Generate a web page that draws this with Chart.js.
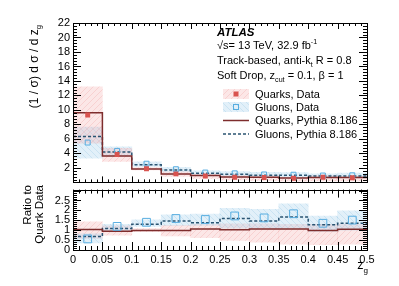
<!DOCTYPE html>
<html>
<head>
<meta charset="utf-8">
<script src="https://cdn.jsdelivr.net/npm/chart.js@4.4.0/dist/chart.umd.min.js"></script>
<style>
  html, body { margin: 0; padding: 0; background: #fff; }
  body { width: 399px; height: 286px; position: relative; overflow: hidden;
         font-family: "Liberation Sans", Arial, Helvetica, sans-serif; color: #000; }
  canvas { position: absolute; left: 0; }
  #top { top: 0; }
  #bot { top: 180px; }
  .t { position: absolute; white-space: nowrap; font-size: 11px; line-height: 13px; }
  .rot { position: absolute; transform: rotate(-90deg); transform-origin: left top;
         text-align: right; white-space: nowrap; }
  sub, sup { font-size: 65%; line-height: 0; }
</style>
</head>
<body>
<canvas id="top" width="399" height="192"></canvas>
<canvas id="bot" width="399" height="106"></canvas>

<!-- axis titles -->
<div class="rot" style="left:27px; top:185px; width:160px; font-size:12px; line-height:14px;">(1 / &sigma;) d &sigma; / d z<sub>g</sub></div>
<div class="rot" style="left:21px; top:265px; width:80px; font-size:11.5px; line-height:12px;">Ratio to<br>Quark Data</div>
<div class="t" style="right:31px; top:258px; font-size:12.5px; line-height:14px;">z<sub>g</sub></div>

<!-- labels -->
<div class="t" style="left:217px; top:25.5px; font-weight:bold; font-style:italic; font-size:11.5px;">ATLAS</div>
<div class="t" style="left:217px; top:39px;">&radic;s= 13 TeV, 32.9 fb<sup>-1</sup></div>
<div class="t" style="left:217px; top:54px;">Track-based, anti-k<sub>t</sub> R = 0.8</div>
<div class="t" style="left:217px; top:68.5px;">Soft Drop, z<sub>cut</sub> = 0.1, &beta; = 1</div>

<!-- legend text -->
<div class="t" style="left:255px; top:88px;">Quarks, Data</div>
<div class="t" style="left:255px; top:101px;">Gluons, Data</div>
<div class="t" style="left:255px; top:114px;">Quarks, Pythia 8.186</div>
<div class="t" style="left:255px; top:127.5px;">Gluons, Pythia 8.186</div>

<script>
// --- Data ---
const Z_EDGES = [0, 0.05, 0.1, 0.15, 0.2, 0.25, 0.3, 0.35, 0.4, 0.45, 0.5];

// upper panel: (1/sigma) dsigma/dz_g
const QUARK_DATA   = [9.3, 3.85, 1.88, 1.18, 0.88, 0.72, 0.68, 0.58, 0.70, 0.65];
const QUARK_LO     = [5.4, 2.9, 1.72, 0.84, 0.55, 0.35, 0.27, 0.17, 0.19, 0.20];
const QUARK_HI     = [13.2, 4.7, 2.03, 1.46, 1.15, 0.95, 0.90, 0.75, 0.91, 0.85];
const GLUON_DATA   = [5.5, 4.35, 2.58, 1.82, 1.36, 1.25, 1.10, 1.06, 0.95, 0.98];
const GLUON_LO     = [3.35, 3.65, 2.22, 1.45, 1.09, 0.79, 0.75, 0.64, 0.67, 0.65];
const GLUON_HI     = [7.65, 4.9, 2.85, 2.08, 1.60, 1.51, 1.40, 1.35, 1.20, 1.29];
const QUARK_PYTHIA = [9.6, 3.65, 1.85, 1.15, 0.95, 0.74, 0.72, 0.62, 0.69, 0.68];
const GLUON_PYTHIA = [6.35, 4.2, 2.42, 1.70, 1.25, 1.14, 1.00, 0.97, 0.89, 0.88];

// lower panel: ratio to quark data
const R_GLUON_DATA   = [0.56, 1.19, 1.40, 1.59, 1.54, 1.72, 1.62, 1.83, 1.35, 1.51];
const R_GLUON_LO     = [0.36, 0.95, 1.19, 1.24, 1.24, 1.10, 1.10, 1.10, 0.95, 1.00];
const R_GLUON_HI     = [0.82, 1.30, 1.52, 1.78, 1.82, 2.10, 2.06, 2.33, 1.71, 1.98];
const R_QUARK_LO     = [0.58, 0.75, 0.92, 0.71, 0.62, 0.48, 0.40, 0.30, 0.27, 0.30];
const R_QUARK_HI     = [1.42, 1.22, 1.08, 1.24, 1.30, 1.32, 1.32, 1.30, 1.30, 1.30];
const R_GLUON_PYTHIA = [0.68, 1.08, 1.30, 1.46, 1.38, 1.59, 1.46, 1.67, 1.27, 1.35];
const R_QUARK_PYTHIA = [1.03, 0.95, 0.99, 0.99, 1.06, 1.02, 1.06, 1.06, 0.98, 1.05];

// tick labels
const X_TICKS = [0, 0.05, 0.1, 0.15, 0.2, 0.25, 0.3, 0.35, 0.4, 0.45, 0.5];
const Y_TICKS = [2, 4, 6, 8, 10, 12, 14, 16, 18, 20, 22];
const R_TICKS = [0, 0.5, 1, 1.5, 2, 2.5];

// --- Colours ---
const RED = '#d9534f';
const QUARK_LINE = '#7e2d2d';
const BLUE = '#58ade0';
const GLUON_LINE = '#2a5472';
const FONT = { family: '"Liberation Sans", Arial, Helvetica, sans-serif', size: 11 };

function hatch(ctx, base, line, dir) {
    const c = document.createElement('canvas');
    c.width = c.height = 6;
    const g = c.getContext('2d');
    g.fillStyle = base;
    g.fillRect(0, 0, 6, 6);
    g.strokeStyle = line;
    g.lineWidth = 1;
    g.beginPath();
    if (dir > 0) { g.moveTo(-1, 7); g.lineTo(7, -1); } else { g.moveTo(-1, -1); g.lineTo(7, 7); }
    g.stroke();
    return ctx.createPattern(c, 'repeat');
}

// helpers to build datasets from the arrays
const centers = Z_EDGES.slice(0, -1).map((e, i) => (e + Z_EDGES[i + 1]) / 2);
const steps = vals => Z_EDGES.map((e, i) => ({ x: e, y: vals[Math.min(i, vals.length - 1)] }));
const points = vals => centers.map((c, i) => ({ x: c, y: vals[i] }));
const band = (lo, hi) => centers.map((c, i) => ({ x: c, y: [lo[i], hi[i]] }));

function bandSet(data, fill) {
    return { type: 'bar', data, backgroundColor: fill, borderWidth: 0, grouped: false,
             barPercentage: 1, categoryPercentage: 1 };
}
function stepSet(data, color, dash) {
    return { type: 'line', data, stepped: 'before', borderColor: color, borderWidth: 1.5,
             borderDash: dash || [], pointRadius: 0, fill: false };
}
function pointSet(data, fill, stroke, r) {
    return { type: 'line', data, showLine: false, pointStyle: 'rect', pointRadius: r,
             backgroundColor: fill, borderColor: stroke, pointBorderWidth: fill === 'transparent' ? 1 : 0 };
}

// ROOT style frame with inward ticks on all four sides
const rootFrame = {
    id: 'rootFrame',
    afterDraw(chart, args, o) {
        const { ctx, chartArea: a, scales } = chart;
        const px = v => Math.round(scales.x.getPixelForValue(v)) + 0.5;
        const py = v => Math.round(scales.y.getPixelForValue(v)) + 0.5;
        ctx.save();
        ctx.strokeStyle = '#000';
        ctx.lineWidth = 1;
        ctx.beginPath();
        const nx = Math.round((o.x[1] - o.x[0]) / o.x[3]);
        for (let i = 0; i <= nx; i++) {
            const v = o.x[0] + i * o.x[3];
            const major = Math.abs(v / o.x[2] - Math.round(v / o.x[2])) < 1e-6;
            const len = major ? o.xLen[0] : o.xLen[1];
            const p = px(v);
            ctx.moveTo(p, a.bottom); ctx.lineTo(p, a.bottom - len);
            ctx.moveTo(p, a.top); ctx.lineTo(p, a.top + len);
        }
        const ny = Math.round((o.y[1] - o.y[0]) / o.y[3]);
        for (let i = 0; i <= ny; i++) {
            const v = o.y[0] + i * o.y[3];
            const major = Math.abs(v / o.y[2] - Math.round(v / o.y[2])) < 1e-6;
            const len = major ? o.yLen[0] : o.yLen[1];
            const p = py(v);
            ctx.moveTo(a.left, p); ctx.lineTo(a.left + len, p);
            ctx.moveTo(a.right, p); ctx.lineTo(a.right - len, p);
        }
        ctx.stroke();
        ctx.strokeRect(Math.round(a.left) + 0.5, Math.round(a.top) + 0.5,
                       Math.round(a.right - a.left), Math.round(a.bottom - a.top));
        ctx.restore();
    }
};

// legend symbols
const legendMarks = {
    id: 'legendMarks',
    afterDraw(chart, args, o) {
        const ctx = chart.ctx;
        ctx.save();
        ctx.fillStyle = o.red; ctx.fillRect(223, 89, 26, 10);
        ctx.fillStyle = RED; ctx.fillRect(233.5, 91.5, 5, 5);
        ctx.fillStyle = o.blue; ctx.fillRect(223, 102, 26, 10);
        ctx.strokeStyle = BLUE; ctx.lineWidth = 1; ctx.strokeRect(233.5, 104.5, 5, 5);
        ctx.lineWidth = 1.5;
        ctx.strokeStyle = QUARK_LINE;
        ctx.beginPath(); ctx.moveTo(223, 120.5); ctx.lineTo(249, 120.5); ctx.stroke();
        ctx.strokeStyle = GLUON_LINE; ctx.setLineDash([3, 2]);
        ctx.beginPath(); ctx.moveTo(223, 134); ctx.lineTo(249, 134); ctx.stroke();
        ctx.restore();
    }
};

function xScale(showLabels) {
    return {
        type: 'linear', min: 0, max: 0.5, offset: false, display: showLabels,
        grid: { display: false, drawTicks: false }, border: { display: false },
        afterBuildTicks: s => { s.ticks = X_TICKS.map(v => ({ value: v })); },
        afterFit: s => { s.height = showLabels ? 36 : 0; },
        ticks: { autoSkip: false, maxRotation: 0, padding: 3, color: '#000', font: FONT,
                 callback: v => String(parseFloat(Number(v).toFixed(2))) }
    };
}
function yScale(min, max, ticks) {
    return {
        type: 'linear', min, max,
        grid: { display: false, drawTicks: false }, border: { display: false },
        afterBuildTicks: s => { s.ticks = ticks.map(v => ({ value: v })); },
        afterFit: s => { s.width = 73; },
        ticks: { autoSkip: false, padding: 3, color: '#000', font: FONT, callback: v => String(v) }
    };
}

const common = {
    responsive: false, animation: false, events: [],
    plugins: { legend: { display: false }, tooltip: { enabled: false } }
};

// --- Upper panel ---
const topCtx = document.getElementById('top').getContext('2d');
const redFill = hatch(topCtx, 'rgba(245,170,170,0.28)', 'rgba(230,130,130,0.22)', 1);
const blueFill = hatch(topCtx, 'rgba(160,205,235,0.30)', 'rgba(120,180,220,0.22)', -1);

new Chart(topCtx, {
    type: 'line',
    data: {
        datasets: [
            pointSet(points(QUARK_DATA), RED, RED, 3.5),
            pointSet(points(GLUON_DATA), 'transparent', BLUE, 3.5),
            stepSet(steps(QUARK_PYTHIA), QUARK_LINE),
            stepSet(steps(GLUON_PYTHIA), GLUON_LINE, [3, 2]),
            bandSet(band(QUARK_LO, QUARK_HI), redFill),
            bandSet(band(GLUON_LO, GLUON_HI), blueFill)
        ]
    },
    options: Object.assign({}, common, {
        layout: { padding: { top: 23, right: 32, bottom: 6, left: 0 } },
        scales: { x: xScale(false), y: yScale(0, 22, Y_TICKS) },
        plugins: Object.assign({}, common.plugins, {
            rootFrame: { x: [0, 0.5, 0.05, 0.01], xLen: [6, 3], y: [0, 22, 2, 0.4], yLen: [8, 4] },
            legendMarks: { red: redFill, blue: blueFill }
        })
    }),
    plugins: [rootFrame, legendMarks]
});

// --- Ratio panel ---
const botCtx = document.getElementById('bot').getContext('2d');
const redFill2 = hatch(botCtx, 'rgba(245,170,170,0.28)', 'rgba(230,130,130,0.22)', 1);
const blueFill2 = hatch(botCtx, 'rgba(160,205,235,0.30)', 'rgba(120,180,220,0.22)', -1);

new Chart(botCtx, {
    type: 'line',
    data: {
        datasets: [
            pointSet(points(R_GLUON_DATA), 'transparent', BLUE, 5.5),
            stepSet(steps(R_QUARK_PYTHIA), QUARK_LINE),
            stepSet(steps(R_GLUON_PYTHIA), GLUON_LINE, [3, 2]),
            bandSet(band(R_GLUON_LO, R_GLUON_HI), blueFill2),
            bandSet(band(R_QUARK_LO, R_QUARK_HI), redFill2)
        ]
    },
    options: Object.assign({}, common, {
        layout: { padding: { top: 6, right: 32, bottom: 0, left: 0 } },
        scales: { x: xScale(true), y: yScale(0, 3.05, R_TICKS) },
        plugins: Object.assign({}, common.plugins, {
            rootFrame: { x: [0, 0.5, 0.05, 0.01], xLen: [8, 4], y: [0, 3.05, 0.5, 0.1], yLen: [8, 4] }
        })
    }),
    plugins: [rootFrame]
});
</script>
</body>
</html>
